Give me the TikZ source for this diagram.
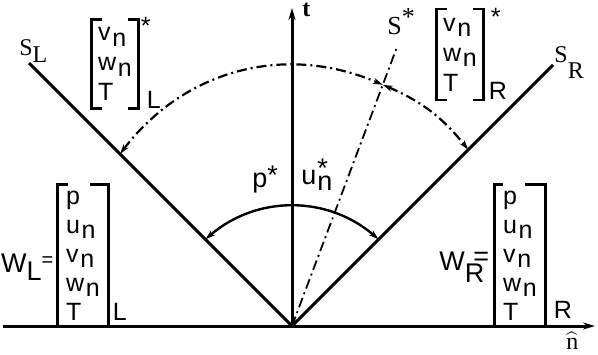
\documentclass[tikz,border=0pt]{standalone}
\usepackage{fontspec}
\setmainfont{Liberation Sans}
\newfontfamily\serif{Liberation Serif}
\usetikzlibrary{arrows.meta}

\newcommand{\lowsub}[1]{\kern0.8pt\raisebox{-2.8pt}{#1}}

\begin{document}
\begin{tikzpicture}[
    x=0.5pt, y=0.5pt,
    >=Stealth,
    axisline/.style={line width=1.5pt, -{Stealth[length=6pt, width=3.5pt]}},
    front/.style={line width=1.5pt},
    dashdot/.style={line width=1.1pt, dash pattern=on 5pt off 2pt on 1pt off 2pt},
    wave/.style={line width=1.2pt, {Stealth[length=5pt, width=3pt]}-{Stealth[length=5pt, width=3pt]}},
    vec/.style={inner sep=0pt, align=left, font=\fontsize{12.5}{15}\selectfont},
    bracket/.style={line width=1.2pt},
    tag/.style={inner sep=0pt, font=\fontsize{12.5}{14}\selectfont},
    slabel/.style={inner sep=0pt, anchor=base west, font=\serif\fontsize{12}{14}\selectfont}
]
  \useasboundingbox (0,0) rectangle (598,354);

  % Axes n and t
  \coordinate (origin) at (292,28);
  \coordinate (nleft) at (3,28);
  \coordinate (nright) at (595,28);
  \coordinate (ttop) at (292,346);
  \draw[axisline] (nleft) -- (nright);
  \draw[axisline] (origin) -- (ttop);

  % Waves S_L, S_R and contact S*
  \coordinate (sl) at (29,291);
  \coordinate (sr) at (553,289);
  \coordinate (sc) at (397,307);
  \draw[front] (origin) -- (sl);
  \draw[front] (origin) -- (sr);
  \draw[dashdot, line width=0.9pt] (origin) -- (sc);

  % Arcs between the waves
  \coordinate (ldash) at (120,200);
  \coordinate (cdash) at (382.8,269.2);
  \coordinate (rdash) at (468.3,204.3);
  \coordinate (lsol) at (205.4,114.6);
  \coordinate (rsol) at (378.6,114.6);
  \draw[wave, dashdot] (ldash) to[bend left=38] (cdash);
  \draw[wave, dashdot] (cdash) to[bend left=14] (rdash);
  \draw[wave] (lsol) to[bend left=41] (rsol);

  % Star states
  \node[vec, minimum width=23pt, minimum height=44pt] (starL) at (115,290)
    {v\lowsub{n}\\w\lowsub{n}\\T};
  \node[vec, minimum width=23pt, minimum height=45pt] (starR) at (460,299.5)
    {v\lowsub{n}\\w\lowsub{n}\\T};
  \draw[bracket] ([xshift=5pt]starL.north west) -| (starL.south west) -- ++(5pt,0);
  \draw[bracket] ([xshift=-5pt]starL.north east) -| (starL.south east) -- ++(-5pt,0);
  \draw[bracket] ([xshift=5pt]starR.north west) -| (starR.south west) -- ++(5pt,0);
  \draw[bracket] ([xshift=-5pt]starR.north east) -| (starR.south east) -- ++(-5pt,0);
  \node[tag, anchor=north west, xshift=1pt, yshift=1.5pt] at (starL.north east) {*};
  \node[tag, anchor=south west, xshift=4pt] at (starL.south east) {L};
  \node[tag, anchor=north west, xshift=3.5pt, yshift=0.5pt] at (starR.north east) {*};
  \node[tag, anchor=south west, xshift=2.5pt] at (starR.south east) {R};

  % Initial states W_L and W_R
  \node[vec, font=\fontsize{12.5}{14.5}\selectfont, minimum width=25pt, minimum height=70.5pt]
    (WL) at (83,98.5) {p\\u\lowsub{n}\\v\lowsub{n}\\w\lowsub{n}\\T};
  \node[vec, font=\fontsize{12.5}{14.5}\selectfont, minimum width=25pt, minimum height=70.5pt]
    (WR) at (520,98.5) {p\\u\lowsub{n}\\v\lowsub{n}\\w\lowsub{n}\\T};
  \draw[bracket] ([xshift=5pt]WL.north west) -| (WL.south west);
  \draw[bracket] ([xshift=-9pt]WL.north east) -| (WL.south east);
  \draw[bracket] ([xshift=4pt]WR.north west) -| (WR.south west);
  \draw[bracket] ([xshift=-10pt]WR.north east) -| (WR.south east);
  \node[tag, anchor=south west, xshift=2pt, yshift=3pt] at (WL.south east) {L};
  \node[tag, anchor=south west, xshift=4pt, yshift=4pt] at (WR.south east) {R};
  \node[tag, anchor=base east, font=\fontsize{13.5}{15}\selectfont] (wlname)
    at ([xshift=-2pt, yshift=-8.25pt]WL.west)
    {W\raisebox{-4pt}{L}\raisebox{3pt}{\fontsize{10}{11}\selectfont=}};
  \node[tag, anchor=base east, font=\fontsize{13.5}{15}\selectfont] (wrname)
    at ([xshift=-2.5pt, yshift=-7.25pt]WR.west)
    {W\raisebox{-6pt}{R}\kern-5.5pt\raisebox{2.5pt}{=}};

  % Labels of waves and axes
  \node[slabel] (slname) at (19,299) {S\raisebox{-3.5pt}{L}};
  \node[slabel] (srname) at (554,291) {S\raisebox{-7.5pt}{R}};
  \node[slabel, font=\serif\fontsize{13}{15}\selectfont] (scname) at (387,319) {S\raisebox{4.5pt}{*}};
  \node[slabel, font=\serif\bfseries\fontsize{12}{14}\selectfont] (tname) at (302,337) {t};
  \node[slabel] (nname) at (566,5) {$\widehat{\hbox{\serif n}}$};

  % Star region values
  \node[tag, anchor=base west, font=\fontsize{13.5}{15}\selectfont] (pstar) at (252,166.5)
    {p\raisebox{1.3pt}{*}};
  \node[tag, anchor=base west, font=\fontsize{13.5}{15}\selectfont] (unstar) at (301,170)
    {u\kern0.5pt\raisebox{-3pt}{n}\kern-7.5pt\raisebox{3.5pt}{*}};
\end{tikzpicture}
\end{document}
